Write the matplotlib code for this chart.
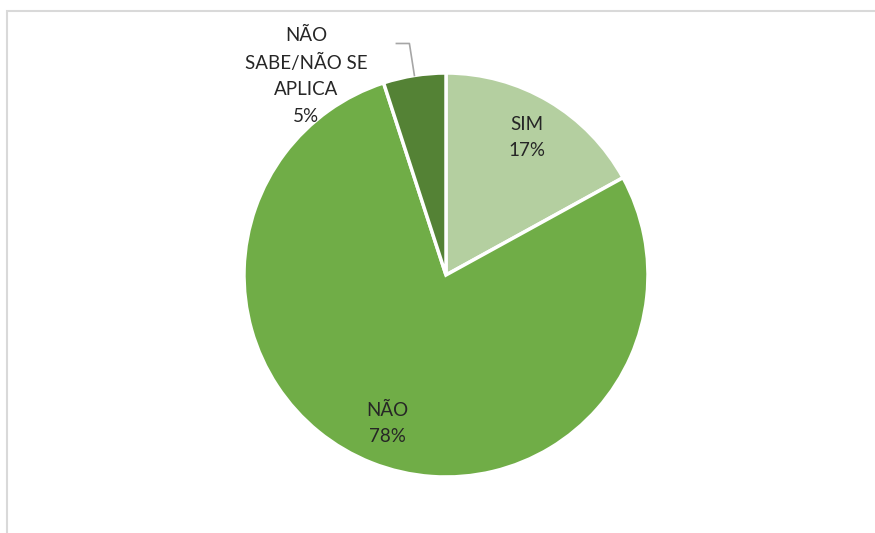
import matplotlib.pyplot as plt
import numpy as np
from matplotlib.patches import Rectangle

# Answer shares
labels = ["SIM", "NÃO", "NÃO\nSABE/NÃO SE\nAPLICA"]
shares = [17, 78, 5]
colors = ["#b4cfa0", "#70ad47", "#548235"]

plt.rcParams["font.family"] = ["Lato", "DejaVu Sans"]

fig = plt.figure(figsize=(8.75, 5.33), dpi=100)
ax = fig.add_axes([0, 0, 1, 1])

# light chart frame
fig.patches.append(Rectangle((7 / 875, -0.1), 1.2, 1 - 11 / 533 + 0.1,
                             transform=fig.transFigure, fill=False,
                             edgecolor="#d9d9d9", linewidth=1.5))

cx, cy, r = 446, 258, 202
wedges, _ = ax.pie(shares, colors=colors, startangle=90, counterclock=False,
                   center=(cx, cy), radius=r, frame=True,
                   wedgeprops=dict(edgecolor="white", linewidth=2.5))
ax.set_xlim(0, 875)
ax.set_ylim(0, 533)
ax.set_aspect("equal")
ax.axis("off")

txt_color = "#262626"
for i, w in enumerate(wedges):
    mid = np.deg2rad((w.theta1 + w.theta2) / 2)
    text = f"{labels[i]}\n{shares[i]}%"
    if i < 2:
        ax.text(cx + 0.79 * r * np.cos(mid), cy + 0.79 * r * np.sin(mid), text,
                ha="center", va="center", fontsize=13.5, color=txt_color,
                linespacing=1.65)
    else:
        # small slice: label outside with an elbow leader line
        ex, ey = cx + r * np.cos(mid), cy + r * np.sin(mid)
        ax.plot([ex, ex - 5, ex - 18], [ey, ey + 32, ey + 32],
                color="#a6a6a6", linewidth=1.2)
        ax.text(306, 457, text, ha="center", va="center", fontsize=13.5,
                color=txt_color, linespacing=1.65)

fig.savefig("out.png", dpi=100)
